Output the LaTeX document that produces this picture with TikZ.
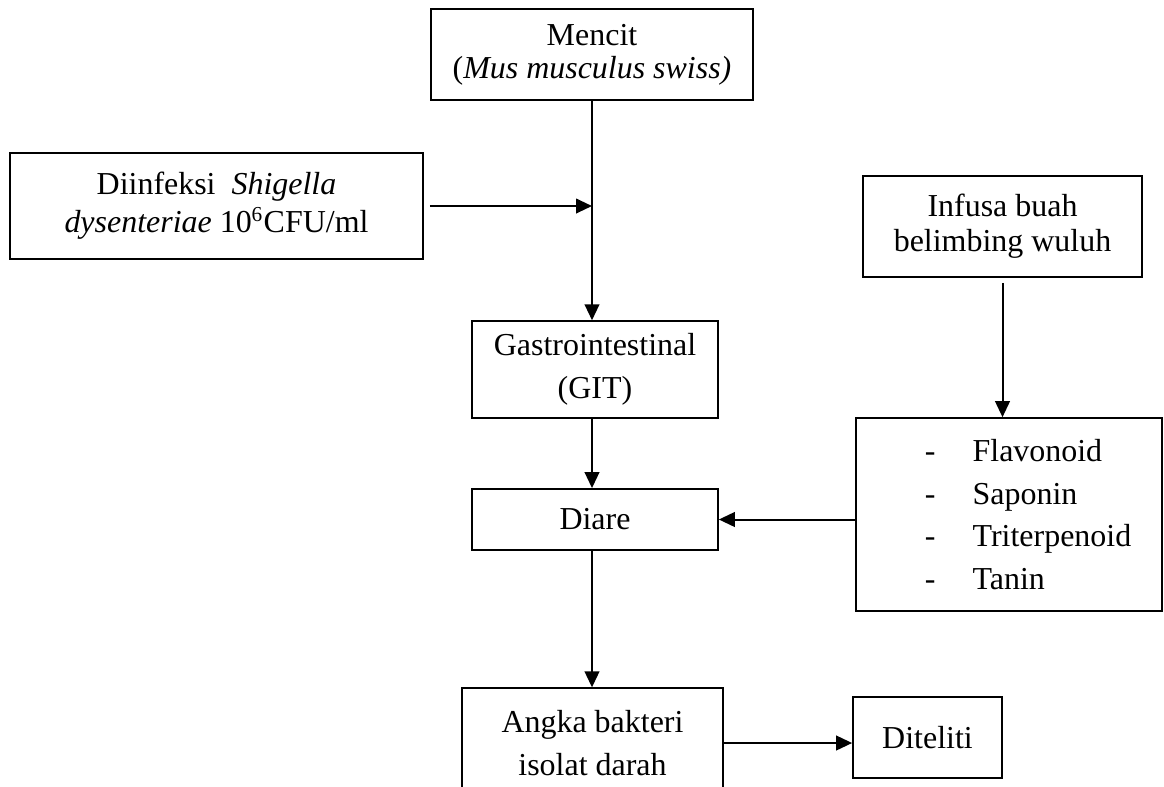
\documentclass[tikz,border=0pt]{standalone}
\usepackage{fontspec}
\setmainfont{Liberation Serif}
\usepackage{tikz}
\usetikzlibrary{positioning}
\usetikzlibrary{arrows.meta}

\begin{document}
\begin{tikzpicture}[x=0.0132cm, y=-0.0132cm,
    >={Triangle[length=6pt, width=5.5pt]},
    kotak/.style={draw, line width=0.55pt, align=center, inner sep=0pt,
        font=\fontsize{12}{16}\selectfont},
    panah/.style={->, line width=0.75pt}]
    \useasboundingbox (0,0) rectangle (1164,786);
            \node[kotak, minimum width=4.25cm, minimum height=1.20cm, font=\fontsize{12}{12.4}\selectfont] (mencit) at (592,54.5) {Mencit \\ (\textit{Mus musculus swiss)}};
            \node[kotak, minimum width=5.45cm, minimum height=1.40cm, font=\fontsize{12}{14.3}\selectfont] (infeksi_shigella) at (216.5,206) {Diinfeksi\ \ \textit{Shigella} \\ \textit{dysenteriae} 10\textsuperscript{6}CFU/ml};
            \node[kotak, minimum width=3.68cm, minimum height=1.33cm, font=\fontsize{12}{13.2}\selectfont] (infusa_buah) at (1002.5,226.5) {Infusa buah \\ belimbing wuluh};
            \node[kotak, minimum width=3.25cm, minimum height=1.28cm] (gastro) at (595,369.5) {Gastrointestinal \\ (GIT)};
            \node[kotak, minimum width=3.25cm, minimum height=0.81cm] (diare) at (595,519.5) {Diare};
            \node[kotak, minimum height=2.55cm, text width=4.04cm, align=left] (senyawa) at (1009,514.5) {\hspace*{0.91cm}\makebox[0.63cm][l]{-}Flavonoid \\ \hspace*{0.91cm}\makebox[0.63cm][l]{-}Saponin \\ \hspace*{0.91cm}\makebox[0.63cm][l]{-}Triterpenoid \\ \hspace*{0.91cm}\makebox[0.63cm][l]{-}Tanin};
            \node[kotak, minimum width=3.45cm, minimum height=1.45cm] (angka_bakteri) at (592.5,743) {Angka bakteri \\ isolat darah};
            \node[kotak, minimum width=1.97cm, minimum height=1.07cm] (diteliti) at (927.5,737.5) {Diteliti};
            \coordinate (titik_infeksi) at (mencit.south |- infeksi_shigella.east);
            \draw[panah] (mencit.south) -- (mencit.south |- gastro.north);
            \draw[panah, shorten <=0.08cm] (infeksi_shigella.east) -- (titik_infeksi);
            \draw[panah, shorten <=0.07cm] (infusa_buah.south) -- (infusa_buah.south |- senyawa.north);
            \draw[panah] (mencit.south |- gastro.south) -- (mencit.south |- diare.north);
            \draw[panah] (senyawa.west |- diare.east) -- (diare.east);
            \draw[panah] (mencit.south |- diare.south) -- (mencit.south |- angka_bakteri.north);
            \draw[panah] (angka_bakteri.east) -- (angka_bakteri.east -| diteliti.west);
        \end{tikzpicture}
\end{document}
